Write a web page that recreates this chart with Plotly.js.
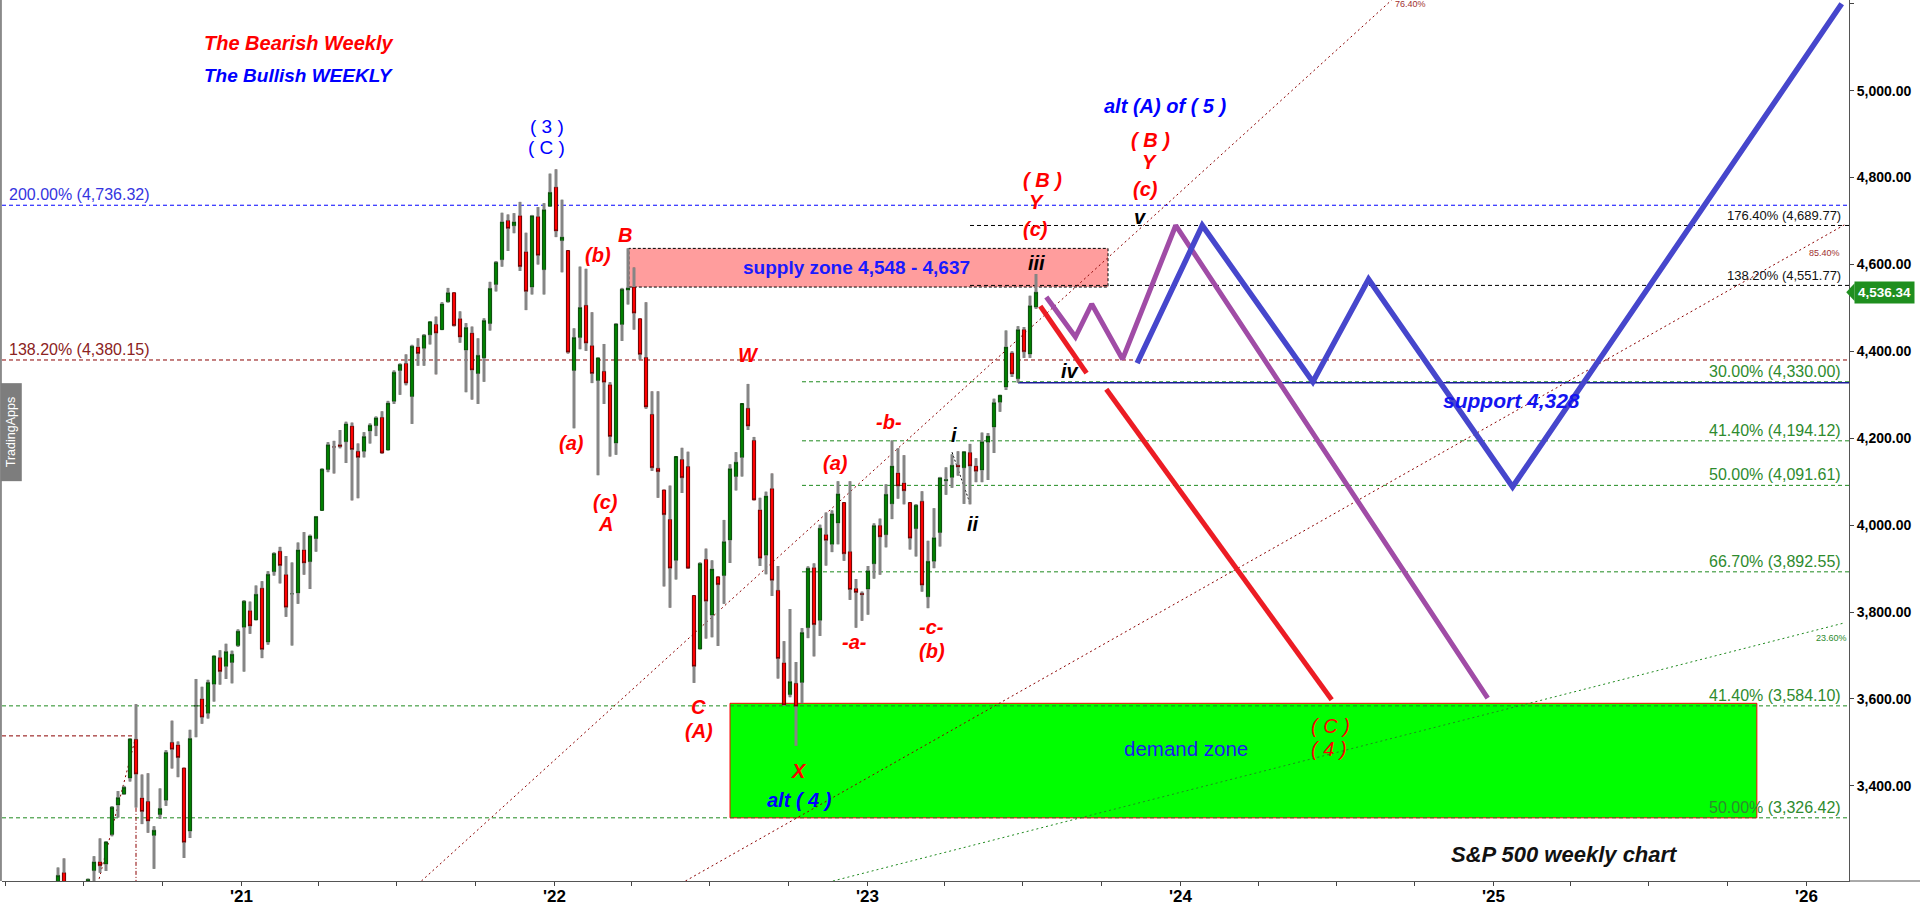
<!DOCTYPE html>
<html><head><meta charset="utf-8">
<script src="https://cdn.plot.ly/plotly-3.0.1.min.js"></script>
<style>html,body{margin:0;padding:0;background:#fff;overflow:hidden}#chart{width:1920px;height:906px}</style>
</head><body><div id="chart"></div>
<script>
// ---------- weekly S&P 500 candles (Mondays from weekStart) ----------
const weekStart = '2020-06-01';
const open = [3038,3200,2994,3094,3018,3155,3205,3225,3220,3288,3356,3381,3418,3507,3372,3364,3286,3334,3367,3500,3494,3441,3296,3583,3600,3567,3634,3695,3675,3684,3723,
3765,3803,3782,3855,3731,3893,3940,3886,3842,3844,3943,3916,3969,4034,4128,4180,4185,4192,4228,4170,4170,4217,4229,4248,4173,4285,4356,4372,4296,4410,4407,4438,4462,4450,4514,4535,4475,4403,4442,4349,4385,4464,4554,4611,4701,4689,4712,4629,4548,4710,4588,4734,
4778,4655,4632,4356,4432,4506,4413,4333,4354,4323,4189,4462,4541,4548,4475,4386,4255,4131,4081,4013,3919,4151,4135,3838,3715,3921,3793,3881,3884,3966,4112,4156,4269,4195,4035,3931,4084,3850,3683,3610,3636,3638,3764,3902,3781,3978,3956,4005,4052,3939,3854,3843,
3853,3911,3999,3978,4049,4120,4097,4052,3992,4055,3835,3917,3983,4102,4110,4138,4132,4167,4136,4127,4191,4226,4283,4318,4396,4337,4450,4394,4502];
const high = [3212,3233,3156,3155,3166,3186,3238,3279,3272,3353,3388,3400,3509,3588,3426,3429,3307,3394,3482,3550,3502,3441,3529,3646,3628,3644,3699,3712,3727,3711,3760,
3827,3824,3861,3871,3894,3937,3950,3929,3914,3960,3984,3978,4021,4130,4191,4194,4219,4238,4236,4188,4214,4234,4250,4262,4286,4356,4372,4393,4415,4430,4440,4468,4480,4513,4546,4535,4492,4465,4457,4430,4476,4560,4608,4719,4715,4718,4744,4673,4714,4732,4741,4809,
4819,4749,4632,4453,4595,4590,4490,4385,4417,4329,4465,4546,4637,4593,4475,4513,4308,4308,4081,4091,4158,4178,4169,3838,3914,3946,3919,3881,4012,4140,4168,4280,4325,4203,4063,4077,4119,3906,3733,3807,3685,3763,3905,3912,4001,4029,4034,4101,4052,4101,3876,3847,
3906,4004,4015,4094,4195,4177,4161,4052,4048,4078,3964,4039,4111,4133,4163,4170,4170,4187,4154,4213,4212,4291,4299,4448,4400,4458,4456,4528,4578];
const low = [3025,2937,2966,2999,2986,3116,3127,3200,3204,3284,3327,3379,3410,3350,3312,3292,3209,3324,3354,3440,3420,3234,3280,3512,3543,3555,3594,3633,3646,3636,3720,
3663,3750,3782,3694,3725,3884,3866,3789,3723,3819,3886,3853,3939,4034,4122,4119,4177,4143,4057,4062,4156,4188,4205,4165,4173,4279,4300,4322,4233,4367,4367,4416,4347,4450,4513,4458,4420,4306,4289,4279,4330,4448,4538,4595,4631,4672,4585,4495,4531,4600,4531,4733,
4663,4582,4395,4223,4405,4401,4327,4115,4279,4158,4162,4424,4508,4450,4381,4268,4125,4063,3859,3810,3875,4074,3900,3637,3715,3739,3742,3722,3819,3913,4080,4112,4219,4058,3906,3887,3837,3647,3584,3604,3492,3590,3740,3698,3745,3907,3938,3956,3918,3828,3764,3780,
3794,3877,3886,3949,4014,4061,4048,3944,3928,3847,3809,3901,3951,4070,4086,4114,4049,4048,4099,4099,4104,4166,4261,4311,4341,4328,4385,4385,4498];
const close = [3194,3041,3098,3009,3130,3185,3225,3216,3271,3351,3373,3397,3508,3427,3341,3319,3298,3348,3477,3484,3465,3270,3509,3585,3558,3638,3699,3663,3709,3703,3756,
3825,3768,3841,3714,3887,3935,3907,3811,3842,3943,3913,3975,4020,4129,4185,4180,4181,4233,4174,4156,4204,4230,4247,4166,4281,4352,4370,4327,4412,4395,4437,4468,4442,4509,4535,4459,4433,4455,4357,4391,4471,4545,4605,4698,4683,4698,4595,4538,4712,4621,4726,4766,
4677,4663,4398,4432,4501,4419,4349,4385,4329,4204,4463,4543,4546,4488,4393,4272,4132,4123,4024,3901,4158,4109,3901,3675,3912,3825,3899,3863,3962,4130,4145,4280,4228,4058,3924,4067,3873,3693,3586,3640,3583,3753,3901,3771,3993,3965,4026,4072,3934,3852,3845,3840,
3895,3999,3973,4071,4136,4090,4079,3970,4046,3862,3917,3971,4109,4105,4138,4134,4169,4136,4124,4192,4205,4282,4299,4410,4348,4450,4399,4505,4536.34];
const lastPrice = 4536.34;

// ---------- projected paths ----------
const bearPathDates  = ['2023-07-22','2023-09-14',null,'2023-10-07','2024-06-26'];
const bearPathPrices = [4504, 4350, null, 4313, 3598];
const altPathDates   = ['2023-07-29','2023-09-01','2023-09-20','2023-10-26','2023-12-27','2024-12-25'];
const altPathPrices  = [4525, 4433, 4509, 4382, 4689.77, 3602];
const bullPathDates  = ['2023-11-12','2024-01-27','2024-06-04','2024-08-08','2025-01-23','2026-02-11'];
const bullPathPrices = [4373, 4689.77, 4330, 4566, 4088, 5200];

// ---------- levels / zones ----------
const fibLevels = [4736.32, 4380.15, 4689.77, 4551.77, 4330.00, 4194.12, 4091.61, 3892.55, 3584.10, 3326.42];
const fibLabels = ['200.00% (4,736.32)','138.20% (4,380.15)','176.40% (4,689.77)','138.20% (4,551.77)','30.00% (4,330.00)','41.40% (4,194.12)','50.00% (4,091.61)','66.70% (3,892.55)','41.40% (3,584.10)','50.00% (3,326.42)'];
const supplyZonePrices = [4548, 4637];
const supplyZoneDates  = ['2022-03-29','2023-10-09'];
const demandZonePrices = [3326.42, 3590];
const demandZoneDates  = ['2022-07-25','2025-11-04'];
const supportLevel = 4328;
const trendLineDates  = [['2021-07-30','2024-09-04'],['2022-06-03','2026-02-14'],['2022-11-22','2026-02-14']];
const trendLinePrices = [[3181, 5208.7],[3181, 4691],[3181, 3775]];
const trendLineLabels = ['76.40%','85.40%','23.60%'];
const tickYears = ["'21","'22","'23","'24","'25","'26"];
const yTicks = [3400,3600,3800,4000,4200,4400,4600,4800,5000,5200];

// ---------- helpers ----------
function addDays(s, n){ const d = new Date(s+'T00:00:00Z'); d.setUTCDate(d.getUTCDate()+n); return d.toISOString().slice(0,10); }
const weeks = open.map((_, i) => addDays(weekStart, 7*i));
const X0 = '2020-03-27 16:00', X1 = '2026-02-19 12:00';
const Y0 = 3181, Y1 = 5208.7;
const FONT = 'Arial, "Liberation Sans", sans-serif';

// wick segments outside bodies
const wx = [], wy = [];
weeks.forEach((d, i) => {
  const top = Math.max(open[i], close[i]), bot = Math.min(open[i], close[i]);
  wx.push(d, d, null, d, d, null);
  wy.push(high[i], top, null, bot, low[i], null);
});

const traces = [
  {type:'candlestick', x:weeks, open:open, high:high, low:low, close:close,
   increasing:{line:{color:'#0a4a0a', width:1}, fillcolor:'#008000'},
   decreasing:{line:{color:'#6a0000', width:1}, fillcolor:'#ff0000'},
   whiskerwidth:0, hoverinfo:'skip', showlegend:false},
  {type:'scatter', mode:'lines', x:wx, y:wy, line:{color:'#858585', width:3}, hoverinfo:'skip', showlegend:false, connectgaps:false},
  {type:'scatter', mode:'lines', x:bearPathDates, y:bearPathPrices, line:{color:'#ec1c24', width:5}, connectgaps:false, hoverinfo:'skip', showlegend:false},
  {type:'scatter', mode:'lines', x:altPathDates, y:altPathPrices, line:{color:'#a04ca6', width:5}, hoverinfo:'skip', showlegend:false},
  {type:'scatter', mode:'lines', x:bullPathDates, y:bullPathPrices, line:{color:'#4646cc', width:5.5}, hoverinfo:'skip', showlegend:false}
];

// ---------- shapes ----------
const shapes = [];
shapes.push({type:'rect', layer:'below', xref:'x', yref:'y', x0:supplyZoneDates[0], x1:supplyZoneDates[1], y0:supplyZonePrices[0], y1:supplyZonePrices[1],
  fillcolor:'#ff9d9d', line:{color:'#000', width:1, dash:'3px,2px'}});
shapes.push({type:'rect', layer:'below', xref:'x', yref:'y', x0:demandZoneDates[0], x1:demandZoneDates[1], y0:demandZonePrices[0], y1:demandZonePrices[1],
  fillcolor:'#00ff00', line:{color:'#ff0000', width:1}});

const fibStyle = [
  {c:'#0000ff', lc:'#3535e0', from:X0, side:'left', fs:16},
  {c:'#8b0000', lc:'#8b2222', from:X0, side:'left', fs:16},
  {c:'#000000', lc:'#111111', from:'2023-05-01', side:'right', fs:13},
  {c:'#000000', lc:'#111111', from:'2023-05-01', side:'right', fs:13},
  {c:'#1f8a1f', lc:'#2e8b2e', from:'2022-10-17', side:'right', fs:16},
  {c:'#1f8a1f', lc:'#2e8b2e', from:'2022-10-17', side:'right', fs:16},
  {c:'#1f8a1f', lc:'#2e8b2e', from:'2022-10-17', side:'right', fs:16},
  {c:'#1f8a1f', lc:'#2e8b2e', from:'2022-10-17', side:'right', fs:16},
  {c:'#1f8a1f', lc:'#2e8b2e', from:X0, side:'right', fs:16},
  {c:'#1f8a1f', lc:'#2e8b2e', from:X0, side:'right', fs:16}
];
fibLevels.forEach((v, i) => {
  shapes.push({type:'line', layer:'below', xref:'x', yref:'y', x0:fibStyle[i].from, x1:X1, y0:v, y1:v,
    line:{color:fibStyle[i].c, width:1, dash:'4px,3px'}});
});
// trend channel lines
const trendColors = ['#8b0000','#8b0000','#1f8a1f'];
trendLineDates.forEach((d, i) => {
  shapes.push({type:'line', layer:'below', xref:'x', yref:'y', x0:d[0], x1:d[1], y0:trendLinePrices[i][0], y1:trendLinePrices[i][1],
    line:{color:trendColors[i], width:1, dash:'2px,3px'}});
});
// support line
shapes.push({type:'line', layer:'below', xref:'x', yref:'y', x0:'2023-06-26', x1:X1, y0:supportLevel, y1:supportLevel, line:{color:'#1a1a9a', width:1.5}});
// early fib anchor lines (2020)
shapes.push({type:'line', layer:'below', xref:'x', yref:'y', x0:X0, x1:'2020-08-31', y0:3515, y1:3515, line:{color:'#8b0000', width:1, dash:'4px,3px'}});
shapes.push({type:'line', layer:'below', xref:'x', yref:'y', x0:'2020-08-31', x1:'2020-08-31', y0:3515, y1:Y0, line:{color:'#8b0000', width:1, dash:'4px,2px,1px,2px'}});
shapes.push({type:'line', layer:'below', xref:'x', yref:'y', x0:'2020-07-19', x1:'2020-08-31', y0:3186, y1:3515, line:{color:'#8b0000', width:1, dash:'2px,3px'}});
// i-ii dotted connector
shapes.push({type:'line', layer:'below', xref:'x', yref:'y', x0:'2023-04-10', x1:'2023-05-01', y0:4168, y1:4050, line:{color:'#000', width:1, dash:'2px,2px'}});
// frame pieces
shapes.push({type:'line', xref:'paper', yref:'paper', x0:1, x1:1.04, y0:0, y1:0, line:{color:'#555', width:1}});
shapes.push({type:'line', xref:'paper', yref:'paper', x0:-0.0006, x1:-0.0006, y0:0, y1:1, line:{color:'#8a8a8a', width:2}});
// price tag arrow
shapes.push({type:'path', xref:'paper', yref:'y', path:'M 0.9985,'+lastPrice+' L 1.0030,'+(lastPrice+20.5)+' L 1.0030,'+(lastPrice-20.5)+' Z',
  fillcolor:'#1f8f1f', line:{width:0}});

// ---------- annotations ----------
const ann = [];
function lab(t, x, y, color, size, opts){
  opts = opts || {};
  ann.push(Object.assign({text:t, x:x, y:y, xref:'x', yref:'y', showarrow:false, xanchor:'center', yanchor:'middle',
    font:{family:FONT, size:size, color:color}}, opts));
}
fibLevels.forEach((v, i) => {
  const s = fibStyle[i];
  if (s.side === 'left') lab(fibLabels[i], '2020-04-02', v, s.lc, s.fs, {xanchor:'left', yanchor:'bottom'});
  else lab(fibLabels[i], '2026-02-12', v, s.lc, s.fs, {xanchor:'right', yanchor:'bottom'});
});
const R = '#ff0000', B = '#0000ff', K = '#000000';
const bi = t => '<b><i>'+t+'</i></b>';
lab(bi('The Bearish Weekly'), '2020-11-16', 5109.7, R, 20, {xanchor:'left'});
lab(bi('The Bullish WEEKLY'), '2020-11-16', 5036, B, 19, {xanchor:'left'});
lab('( 3 )', '2021-12-23', 4918.7, B, 19);
lab('( C )', '2021-12-23', 4870, B, 19);
lab(bi('B'), '2022-03-25', 4668, R, 20);
lab(bi('(b)'), '2022-02-21', 4622, R, 20);
lab(bi('(a)'), '2022-01-21', 4189, R, 20);
lab(bi('(c)'), '2022-03-02', 4053, R, 20);
lab(bi('A'), '2022-03-02', 4002, R, 20);
lab(bi('W'), '2022-08-16', 4392, R, 20);
lab(bi('C'), '2022-06-18', 3581, R, 20);
lab(bi('(A)'), '2022-06-19', 3526, R, 20);
lab(bi('X'), '2022-10-14', 3434, R, 20);
lab(bi('alt ( 4 )'), '2022-10-14', 3367, B, 20);
lab(bi('(a)'), '2022-11-25', 4143, R, 20);
lab(bi('-a-'), '2022-12-17', 3731, R, 20);
lab(bi('-b-'), '2023-01-27', 4237, R, 20);
lab(bi('-c-'), '2023-03-17', 3766, R, 20);
lab(bi('(b)'), '2023-03-18', 3710, R, 20);
lab(bi('i'), '2023-04-12', 4207, K, 20);
lab(bi('ii'), '2023-05-04', 4003, K, 20);
lab(bi('iii'), '2023-07-17', 4603, K, 20);
lab(bi('iv'), '2023-08-26', 4355, K, 20);
lab(bi('v'), '2023-11-16', 4709, K, 20);
lab(bi('( B )'), '2023-07-25', 4794, R, 20);
lab(bi('Y'), '2023-07-17', 4744, R, 20);
lab(bi('(c)'), '2023-07-16', 4682, R, 20);
lab(bi('alt (A) of ( 5 )'), '2023-12-15', 4965, B, 20);
lab(bi('( B )'), '2023-11-27', 4886, R, 20);
lab(bi('Y'), '2023-11-26', 4836, R, 20);
lab(bi('(c)'), '2023-11-22', 4774, R, 20);
lab('<i>( C )</i>', '2024-06-24', 3538, R, 20);
lab('<i>( 4 )</i>', '2024-06-23', 3485, R, 20);
lab('<b>supply zone 4,548 - 4,637</b>', '2022-12-19', 4592, '#1a1aff', 19);
lab(bi('support 4,328'), '2025-01-22', 4288, '#1414f0', 21);
lab('demand zone', '2024-01-08', 3487, '#1a1af0', 20.5);
lab(bi('S&amp;P 500 weekly chart'), '2025-03-24', 3243, '#111', 22);
lab(trendLineLabels[0], '2024-09-26', 5199, '#a03030', 9);
lab(trendLineLabels[1], '2026-01-22', 4626, '#a03030', 9);
lab(trendLineLabels[2], '2026-01-30', 3740, '#2e8b2e', 9);
ann.push({text:'<b>4,536.34</b>', xref:'paper', yref:'y', x:1.0028, y:lastPrice, xanchor:'left', yanchor:'middle', showarrow:false,
  bgcolor:'#1f8f1f', borderpad:3, font:{family:FONT, size:13.5, color:'#ffffff'}});
ann.push({text:'&nbsp;&nbsp;&nbsp;TradingApps&nbsp;&nbsp;&nbsp;', xref:'paper', yref:'paper', x:-0.0011, y:0.51, xanchor:'left', yanchor:'middle', textangle:-90, showarrow:false,
  bgcolor:'#7d7d7d', borderpad:3, font:{family:FONT, size:12.5, color:'#ffffff'}});

// ---------- axes ----------
const xTickVals = [];
for (let y = 2020; y <= 2026; y++) {
  ['01','04','07','10'].forEach(m => {
    const d = y+'-'+m+'-01';
    if (d >= '2020-04-01' && d <= '2026-01-01') xTickVals.push(d);
  });
}
// year labels under the axis
tickYears.forEach((t, i) => {
  ann.push({text:'<b>'+t+'</b>', xref:'x', yref:'paper', x:(2021+i)+'-01-01', y:0, yanchor:'top', yshift:-4, xanchor:'center',
    showarrow:false, font:{family:FONT, size:17, color:'#000'}});
});

const layout = {
  width:1920, height:906,
  margin:{l:2, r:71, t:0, b:25, pad:0},
  paper_bgcolor:'#ffffff', plot_bgcolor:'#ffffff',
  showlegend:false, boxgap:0.25,
  xaxis:{type:'date', range:[X0, X1], showgrid:false, zeroline:false, showline:true, linecolor:'#555', linewidth:1,
    rangeslider:{visible:false}, tickmode:'array', tickvals:xTickVals, showticklabels:false,
    ticks:'outside', ticklen:4, tickcolor:'#444', tickwidth:1, fixedrange:true},
  yaxis:{range:[Y0, Y1], side:'right', showgrid:false, zeroline:false, showline:true, linecolor:'#555', linewidth:1,
    tickmode:'array', tickvals:yTicks, tickformat:',.2f', ticks:'outside', ticklen:4, tickcolor:'#444',
    tickfont:{family:FONT, size:14, color:'#000', weight:'bold'}, fixedrange:true},
  shapes:shapes,
  annotations:ann
};
Plotly.newPlot('chart', traces, layout, {displayModeBar:false, staticPlot:true});
</script>
</body></html>
